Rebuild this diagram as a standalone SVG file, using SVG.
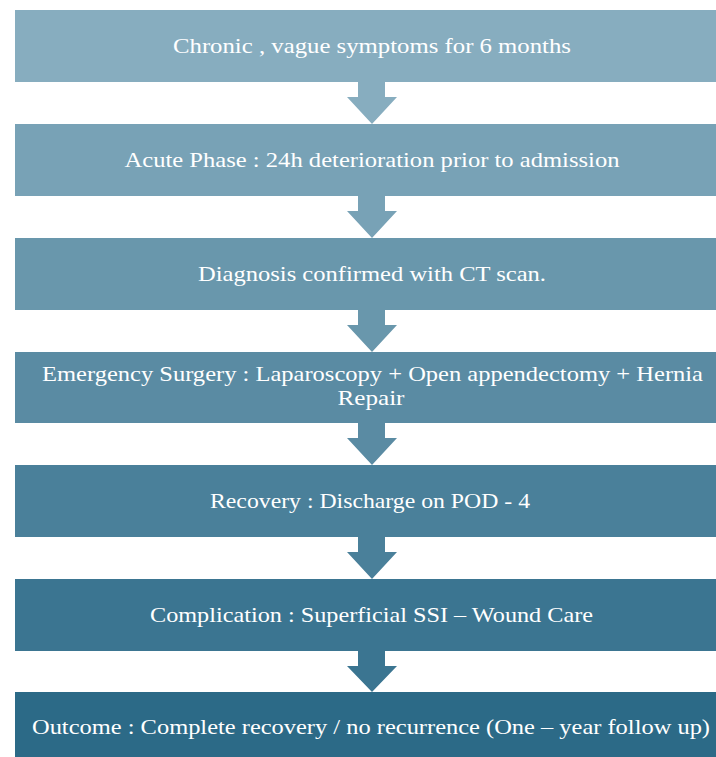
<svg xmlns="http://www.w3.org/2000/svg" width="716" height="757" viewBox="0 0 716 757">
<style>
.t{font-family:"Palatino Linotype","Book Antiqua",Palatino,"Liberation Serif",serif;font-size:22px;fill:#ffffff;text-anchor:middle}
</style>
<rect width="716" height="757" fill="#ffffff"/>
<g id="connectors">
<polygon points="358,82 385,82 385,97 397,97 372,124 347,97 358,97" fill="#87adbf"/>
<polygon points="358,196 385,196 385,211 397,211 372,238 347,211 358,211" fill="#78a2b6"/>
<polygon points="358,310 385,310 385,325 397,325 372,352 347,325 358,325" fill="#6997ac"/>
<polygon points="358,423 385,423 385,438 397,438 372,465 347,438 358,438" fill="#5a8ba3"/>
<polygon points="358,537 385,537 385,552 397,552 372,579 347,552 358,552" fill="#4a809a"/>
<polygon points="358,651 385,651 385,666 397,666 372,692 347,666 358,666" fill="#3b7591"/>
</g>
<g id="n1"><rect x="15" y="10" width="715" height="72" fill="#87adbf"/><text class="t" x="372" y="53" textLength="398" lengthAdjust="spacingAndGlyphs">Chronic , vague symptoms for 6 months</text></g>
<g id="n2"><rect x="15" y="124" width="715" height="72" fill="#78a2b6"/><text class="t" x="372" y="167" textLength="495" lengthAdjust="spacingAndGlyphs">Acute Phase : 24h deterioration prior to admission</text></g>
<g id="n3"><rect x="15" y="238" width="715" height="72" fill="#6997ac"/><text class="t" x="372" y="281" textLength="348" lengthAdjust="spacingAndGlyphs">Diagnosis confirmed with CT scan.</text></g>
<g id="n4"><rect x="15" y="352" width="715" height="71" fill="#5a8ba3"/><text class="t" x="372.5" y="381" textLength="661" lengthAdjust="spacingAndGlyphs">Emergency Surgery : Laparoscopy + Open appendectomy + Hernia</text><text class="t" x="371" y="405" textLength="67" lengthAdjust="spacingAndGlyphs">Repair</text></g>
<g id="n5"><rect x="15" y="465" width="715" height="72" fill="#4a809a"/><text class="t" x="370" y="508" textLength="320" lengthAdjust="spacingAndGlyphs">Recovery : Discharge on POD - 4</text></g>
<g id="n6"><rect x="15" y="579" width="715" height="72" fill="#3b7591"/><text class="t" x="371.5" y="622" textLength="443" lengthAdjust="spacingAndGlyphs">Complication : Superficial SSI – Wound Care</text></g>
<g id="n7"><rect x="15" y="692" width="715" height="72" fill="#2c6a87"/><text class="t" x="371" y="734" textLength="678" lengthAdjust="spacingAndGlyphs">Outcome : Complete recovery / no recurrence (One – year follow up)</text></g>
</svg>
